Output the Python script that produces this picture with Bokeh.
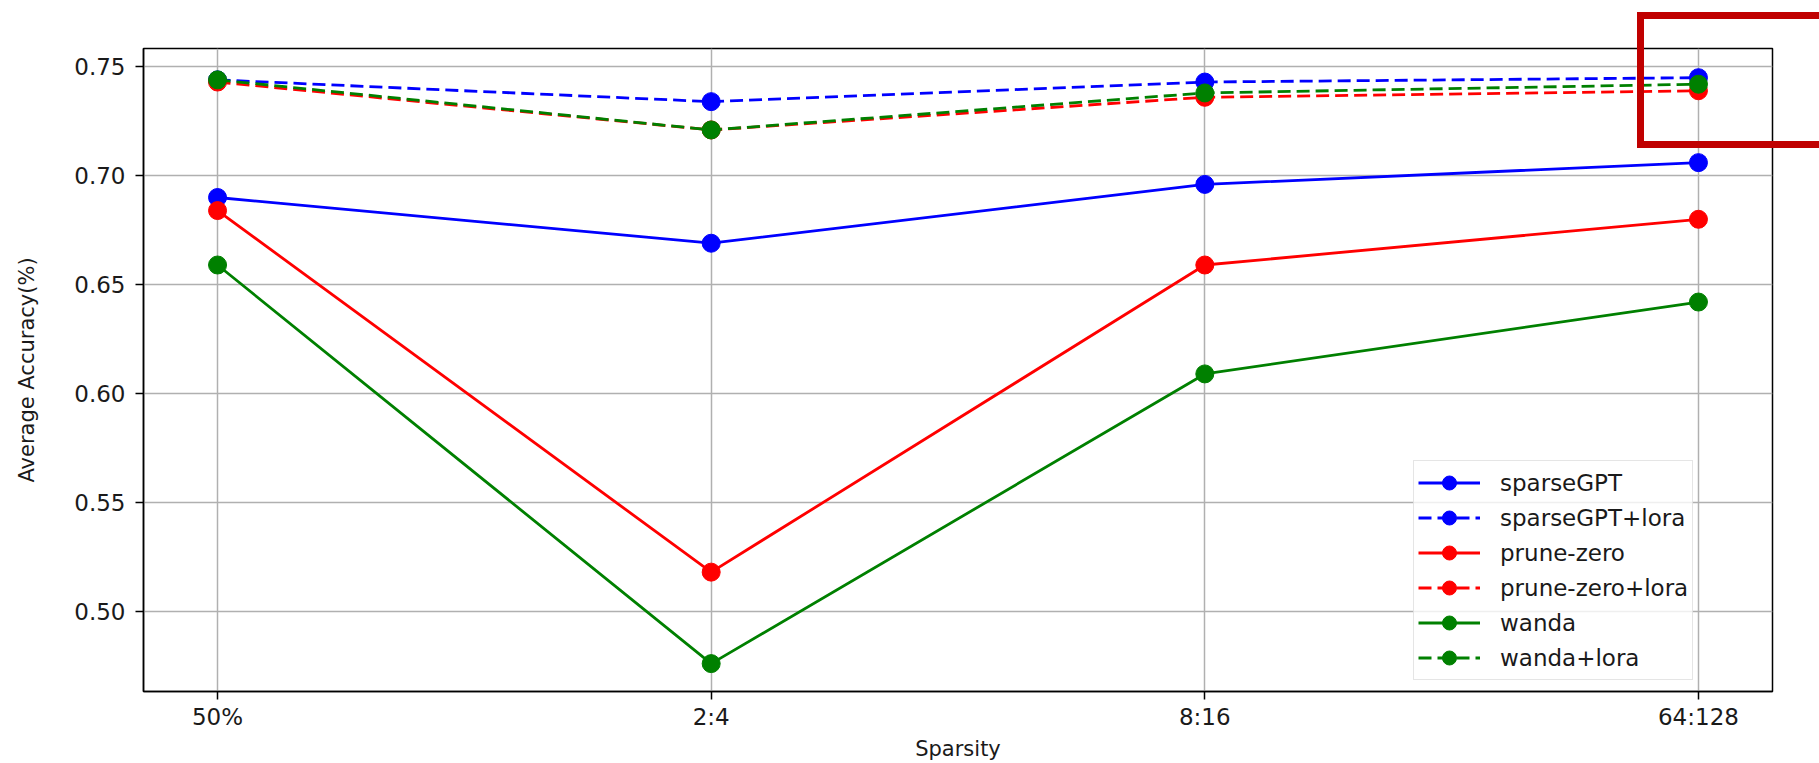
from bokeh.plotting import figure
from bokeh.models import (FixedTicker, PrintfTickFormatter, Legend, LegendItem,
                          Range1d, InlineStyleSheet)
from bokeh.embed import file_html
from bokeh.resources import INLINE

# ---- data ----
categories = ["50%", "2:4", "8:16", "64:128"]
sparsegpt = [0.690, 0.669, 0.696, 0.706]
sparsegpt_lora = [0.744, 0.734, 0.743, 0.745]
prune_zero = [0.684, 0.518, 0.659, 0.680]
prune_zero_lora = [0.743, 0.721, 0.736, 0.739]
wanda = [0.659, 0.476, 0.609, 0.642]
wanda_lora = [0.744, 0.721, 0.738, 0.742]
y_ticks = [0.50, 0.55, 0.60, 0.65, 0.70, 0.75]

series = [
    ("sparseGPT", sparsegpt, "#0000ff", "solid"),
    ("sparseGPT+lora", sparsegpt_lora, "#0000ff", "13 6"),
    ("prune-zero", prune_zero, "#ff0000", "solid"),
    ("prune-zero+lora", prune_zero_lora, "#ff0000", "13 6"),
    ("wanda", wanda, "#008000", "solid"),
    ("wanda+lora", wanda_lora, "#008000", "13 6"),
]

xs = list(range(len(categories)))
FONT = "DejaVu Sans"
TXT = "#1a1a1a"
FS = "23px"

# red highlight frame drawn over the page (an overlay annotation in the reference)
highlight = InlineStyleSheet(css="""
:host { position: relative; }
:host::after {
  content: "";
  position: absolute;
  left: 1637px; top: 12px; width: 182px; height: 136px;
  border: 7px solid #c00000; border-right: none;
  box-sizing: border-box; pointer-events: none; z-index: 10;
}
""")

p = figure(width=1819, height=763, output_backend="svg", toolbar_location=None,
           x_range=Range1d(-0.15, 3.15), y_range=Range1d(0.4632, 0.7584),
           min_border_left=143, min_border_right=47, min_border_top=48,
           min_border_bottom=70, stylesheets=[highlight])
p.background_fill_color = "white"
p.border_fill_color = "white"
p.outline_line_color = "black"
p.outline_line_width = 1.5

items = []
for name, vals, col, dash in series:
    r1 = p.line(xs, vals, line_color=col, line_width=2.8, line_dash=dash)
    r2 = p.scatter(xs, vals, size=18, fill_color=col, line_color=col, marker="circle")
    items.append(LegendItem(label=name, renderers=[r1, r2]))

# axes
p.xaxis.ticker = FixedTicker(ticks=xs)
p.xaxis.major_label_overrides = {i: c for i, c in enumerate(categories)}
p.yaxis.ticker = FixedTicker(ticks=y_ticks)
p.yaxis.formatter = PrintfTickFormatter(format="%.2f")
p.xaxis.axis_label = "Sparsity"
p.yaxis.axis_label = "Average Accuracy(%)"
for ax in (p.xaxis, p.yaxis):
    ax.axis_label_text_font = FONT
    ax.axis_label_text_font_size = "21px"
    ax.axis_label_text_font_style = "normal"
    ax.axis_label_text_color = TXT
    ax.major_label_text_font = FONT
    ax.major_label_text_font_size = FS
    ax.major_label_text_color = TXT
    ax.major_tick_out = 8
    ax.major_tick_in = 0
    ax.minor_tick_out = 0
    ax.minor_tick_in = 0
    ax.axis_line_color = "black"
    ax.axis_line_width = 1.5
    ax.major_tick_line_width = 1.5
p.xaxis.major_label_standoff = 4
p.xaxis.axis_label_standoff = 4
p.yaxis.major_label_standoff = 10
p.yaxis.axis_label_standoff = 32

p.xgrid.ticker = FixedTicker(ticks=xs)
p.ygrid.ticker = FixedTicker(ticks=y_ticks)
for g in (p.xgrid, p.ygrid):
    g.grid_line_color = "#b0b0b0"
    g.grid_line_width = 1.5

legend = Legend(items=items, location=(1270, 11))
legend.label_text_font = FONT
legend.label_text_font_size = FS
legend.label_text_color = TXT
legend.glyph_width = 62
legend.glyph_height = 35
legend.label_standoff = 20
legend.spacing = 0
legend.padding = 4
legend.margin = 0
legend.border_line_color = "#cccccc"
legend.border_line_width = 1.5
legend.background_fill_alpha = 0.8
p.add_layout(legend, "center")

open("out.html", "w").write(file_html(p, INLINE))
